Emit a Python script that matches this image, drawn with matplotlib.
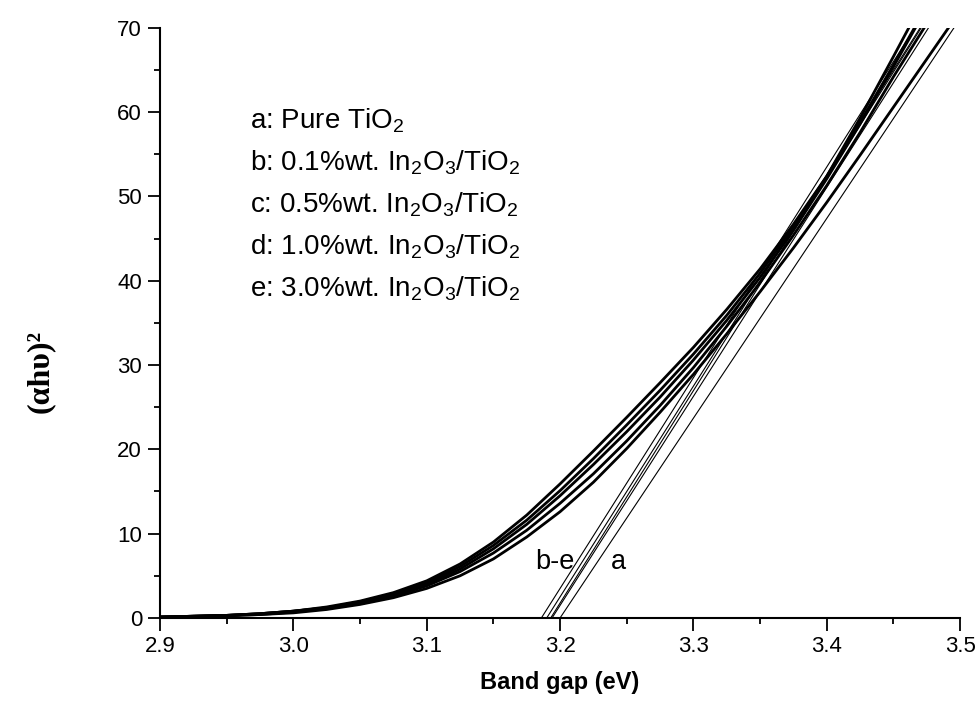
import numpy as np
import matplotlib
matplotlib.use("Agg")
import matplotlib.pyplot as plt
from matplotlib.ticker import MultipleLocator

plt.rcParams['font.family'] = ['Liberation Sans', 'DejaVu Sans']
plt.rcParams['mathtext.fontset'] = 'custom'
plt.rcParams['mathtext.rm'] = 'Liberation Sans'
plt.rcParams['mathtext.it'] = 'Liberation Sans'

# photon energy (eV)
energy = [2.900, 2.925, 2.950, 2.975, 3.000, 3.025, 3.050, 3.075, 3.100, 3.125,
          3.150, 3.175, 3.200, 3.225, 3.250, 3.275, 3.300, 3.325, 3.350, 3.375,
          3.400, 3.425, 3.450, 3.475, 3.500]

# (alpha h nu)^2 for each sample
curve_a = [0.1, 0.15, 0.25, 0.4, 0.6, 1.0, 1.6, 2.4, 3.5, 5.0, 7.0, 9.6, 12.6, 16.1,
           20.1, 24.4, 28.9, 33.7, 38.7, 43.9, 49.3, 54.9, 60.6, 66.3, 72.0]
curve_b = [0.1, 0.2, 0.3, 0.5, 0.8, 1.3, 2.0, 3.0, 4.4, 6.4, 9.0, 12.2, 15.9, 19.8,
           23.8, 27.9, 32.1, 36.6, 41.4, 46.7, 52.4, 59.3, 66.6, 74.0]
curve_c = [0.1, 0.2, 0.3, 0.5, 0.8, 1.2, 1.9, 2.9, 4.2, 6.1, 8.6, 11.6, 15.1, 18.9,
           22.9, 27.0, 31.3, 35.9, 40.9, 46.4, 52.4, 58.8, 65.6, 72.6]
curve_d = [0.1, 0.2, 0.3, 0.5, 0.8, 1.2, 1.9, 2.8, 4.0, 5.8, 8.2, 11.1, 14.5, 18.2,
           22.1, 26.2, 30.6, 35.3, 40.4, 46.0, 52.1, 58.6, 65.4, 72.4]
curve_e = [0.1, 0.2, 0.3, 0.4, 0.7, 1.1, 1.7, 2.6, 3.8, 5.5, 7.7, 10.4, 13.6, 17.1,
           21.0, 25.2, 29.7, 34.6, 39.8, 45.4, 51.3, 57.6, 64.2, 70.5]

# linear extrapolations: x-intercept (band gap) and slope
tangent_x0 = [3.186, 3.190, 3.193, 3.194, 3.200]
tangent_slope = [250, 250, 252, 248, 237]

legend_lines = ['a: Pure TiO$_2$',
                'b: 0.1%wt. In$_2$O$_3$/TiO$_2$',
                'c: 0.5%wt. In$_2$O$_3$/TiO$_2$',
                'd: 1.0%wt. In$_2$O$_3$/TiO$_2$',
                'e: 3.0%wt. In$_2$O$_3$/TiO$_2$']
legend_y = [58.1, 53.1, 48.1, 43.1, 38.1]

fig = plt.figure(figsize=(9.76, 7.07), dpi=100)
ax = fig.add_axes([0.164, 0.126, 0.8197, 0.8345])

for c in [curve_a, curve_b, curve_c, curve_d, curve_e]:
    ax.plot(energy[:len(c)], c, color='k', lw=2.0)

for x0, s in zip(tangent_x0, tangent_slope):
    ax.axline((x0, 0), slope=s, color='k', lw=0.8)

for t, y in zip(legend_lines, legend_y):
    ax.text(2.9675, y, t, fontsize=20, va='baseline')

ax.text(3.196, 6.6, 'b-e', fontsize=19.5, ha='center', va='center')
ax.text(3.2435, 6.6, 'a', fontsize=19.5, ha='center', va='center')

ax.set_xlim(2.9, 3.5)
ax.set_ylim(0, 70)
ax.xaxis.set_major_locator(MultipleLocator(0.1))
ax.xaxis.set_minor_locator(MultipleLocator(0.05))
ax.yaxis.set_major_locator(MultipleLocator(10))
ax.yaxis.set_minor_locator(MultipleLocator(5))
ax.xaxis.set_major_formatter(plt.FuncFormatter(lambda v, p: '%.1f' % v))

ax.spines['top'].set_visible(False)
ax.spines['right'].set_visible(False)
for sp in ['left', 'bottom']:
    ax.spines[sp].set_linewidth(1.5)
ax.tick_params(which='major', direction='out', length=9, width=1.3, labelsize=16, pad=4)
ax.tick_params(which='minor', direction='out', length=4.5, width=1.3)

ax.set_xlabel('Band gap (eV)', fontsize=17, fontweight='bold', labelpad=10)
fig.text(0.041, 0.474, '(αhυ)²', rotation=90, ha='center', va='center',
         fontsize=23, fontweight='bold', family=['Liberation Serif', 'DejaVu Serif'])

fig.savefig('out.png', dpi=100)
